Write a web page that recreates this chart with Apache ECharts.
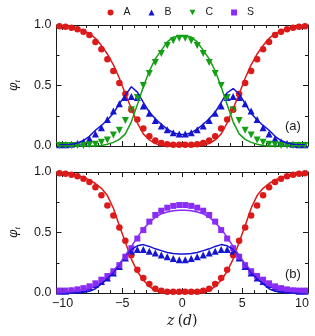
<!DOCTYPE html>
<html>
<head>
<meta charset="utf-8">
<script src="https://cdn.jsdelivr.net/npm/echarts@6/dist/echarts.min.js"></script>
<style>
html,body{margin:0;padding:0;background:#fff;}
#c{width:315px;height:336px;}
</style>
</head>
<body>
<div id="c"></div>
<script>
// positions z (in units of d)
const Z = [-10.25,-9.75,-9.25,-8.75,-8.25,-7.75,-7.25,-6.75,-6.25,-5.75,-5.25,-4.75,-4.25,-3.75,-3.25,-2.75,-2.25,-1.75,-1.25,-0.75,-0.25,
           0.25,0.75,1.25,1.75,2.25,2.75,3.25,3.75,4.25,4.75,5.25,5.75,6.25,6.75,7.25,7.75,8.25,8.75,9.25,9.75,10.25];
const xTickLabels = [-10,-5,0,5,10];
const xMinorTicks = [-10,-9,-8,-7,-6,-5,-4,-3,-2,-1,0,1,2,3,4,5,6,7,8,9,10];

// panel (a): symbols (simulation) and lines (theory)
const aA_pts = [0.99,0.985,0.978,0.964,0.945,0.917,0.86,0.80,0.716,0.62,0.52,0.43,0.30,0.22,0.144,0.08,0.045,0.025,0.015,0.01,0.01,
                0.01,0.01,0.015,0.025,0.045,0.08,0.144,0.22,0.30,0.43,0.52,0.62,0.716,0.80,0.86,0.917,0.945,0.964,0.978,0.985,0.99];
const aA_line = [0.99,0.985,0.98,0.965,0.95,0.93,0.89,0.83,0.76,0.67,0.56,0.43,0.31,0.19,0.10,0.05,0.02,0.005,0,0,0,
                 0,0,0,0.005,0.02,0.05,0.10,0.19,0.31,0.43,0.56,0.67,0.76,0.83,0.89,0.93,0.95,0.965,0.98,0.985,0.99];
const aB_pts = [0.01,0.01,0.015,0.02,0.035,0.06,0.10,0.15,0.22,0.29,0.35,0.40,0.41,0.40,0.33,0.27,0.21,0.165,0.135,0.11,0.10,
                0.10,0.11,0.135,0.165,0.21,0.27,0.33,0.40,0.41,0.40,0.35,0.29,0.22,0.15,0.10,0.06,0.035,0.02,0.015,0.01,0.01];
const aB_line = [0.01,0.01,0.015,0.025,0.045,0.08,0.13,0.17,0.215,0.27,0.35,0.42,0.49,0.445,0.36,0.28,0.225,0.18,0.14,0.11,0.095,
                 0.095,0.11,0.14,0.18,0.225,0.28,0.36,0.44,0.475,0.43,0.35,0.27,0.215,0.17,0.13,0.08,0.045,0.025,0.015,0.01,0.01];
const aC_pts = [0.005,0.005,0.005,0.005,0.005,0.01,0.015,0.03,0.05,0.09,0.13,0.21,0.30,0.40,0.50,0.60,0.69,0.765,0.83,0.87,0.89,
                0.89,0.87,0.83,0.765,0.69,0.60,0.50,0.40,0.30,0.21,0.13,0.09,0.05,0.03,0.015,0.01,0.005,0.005,0.005,0.005,0.005];
const aC_line = [0,0,0,0,0,0,0,0.005,0.015,0.03,0.055,0.10,0.20,0.34,0.49,0.62,0.72,0.79,0.86,0.90,0.908,
                 0.908,0.90,0.86,0.79,0.72,0.62,0.49,0.34,0.20,0.10,0.055,0.03,0.015,0.005,0,0,0,0,0,0,0];

// panel (b)
const bA_pts = [0.99,0.986,0.978,0.964,0.945,0.917,0.873,0.807,0.724,0.641,0.542,0.432,0.311,0.193,0.124,0.074,0.036,0.019,0.01,0.01,0.01,
                0.01,0.01,0.01,0.019,0.036,0.074,0.124,0.193,0.311,0.432,0.542,0.641,0.724,0.807,0.873,0.917,0.945,0.964,0.978,0.986,0.99];
const bA_line = [0.99,0.985,0.98,0.97,0.955,0.935,0.905,0.865,0.805,0.70,0.555,0.42,0.28,0.18,0.105,0.055,0.02,0.005,0,0,0,
                 0,0,0,0.005,0.02,0.055,0.105,0.18,0.28,0.42,0.555,0.70,0.805,0.865,0.905,0.935,0.955,0.97,0.98,0.985,0.99];
const bB_pts = [0.015,0.015,0.02,0.025,0.035,0.048,0.07,0.095,0.125,0.165,0.22,0.29,0.345,0.36,0.36,0.345,0.33,0.315,0.30,0.285,0.275,
                0.275,0.285,0.30,0.315,0.33,0.345,0.36,0.36,0.345,0.29,0.22,0.165,0.125,0.095,0.07,0.048,0.035,0.025,0.02,0.015,0.015];
const bB_line = [0,0,0,0.002,0.006,0.015,0.035,0.075,0.12,0.17,0.235,0.31,0.36,0.39,0.40,0.385,0.365,0.35,0.335,0.327,0.323,
                 0.323,0.327,0.335,0.35,0.365,0.385,0.40,0.39,0.36,0.31,0.235,0.17,0.12,0.075,0.035,0.015,0.006,0.002,0,0,0];
const bS_pts = [0.02,0.02,0.022,0.03,0.04,0.055,0.08,0.11,0.14,0.18,0.23,0.30,0.37,0.45,0.52,0.59,0.645,0.68,0.705,0.72,0.727,
                0.727,0.72,0.705,0.68,0.645,0.59,0.52,0.45,0.37,0.30,0.23,0.18,0.14,0.11,0.08,0.055,0.04,0.03,0.022,0.02,0.02];
const bS_line = [0.005,0.008,0.012,0.018,0.027,0.04,0.06,0.095,0.14,0.185,0.24,0.31,0.385,0.46,0.53,0.58,0.627,0.655,0.67,0.68,0.683,
                 0.683,0.68,0.67,0.655,0.627,0.58,0.53,0.46,0.385,0.31,0.24,0.185,0.14,0.095,0.06,0.04,0.027,0.018,0.012,0.008,0.005];

const RED = '#dc1a1a', BLUE = '#1414d2', GREEN = '#14a014', PURPLE = '#8a2cf5';
const INK = '#1a1a1a';
const SANS = '"Liberation Sans", Arial, sans-serif';
const SERIF = '"DejaVu Serif", "Liberation Serif", serif';

const pts = arr => Z.map((z, i) => [z, arr[i]]);

const chart = echarts.init(document.getElementById('c'), null, {renderer: 'canvas'});

const gridTop = 25, gridH = 121, gridTop2 = 172, gridLeft = 47, gridW = 261;

function xAxes(gridIndex, withLabels) {
  const base = {
    type: 'value', gridIndex, min: -10.5, max: 10.5,
    splitLine: {show: false},
    axisLine: {show: true, onZero: false, lineStyle: {color: INK, width: 1}},
  };
  const major = (pos, labels) => Object.assign({}, base, {
    position: pos,
    axisTick: {show: true, inside: true, length: 5, lineStyle: {color: INK}, customValues: xTickLabels},
    axisLabel: labels ? {
      show: true, customValues: xTickLabels, fontFamily: SANS, fontSize: 12.5, color: INK, margin: 4,
      formatter: v => String(v).replace('-', '\u2212')
    } : {show: false},
    name: labels ? '{i|z} {n|(}{i|d}{n|)}' : '',
    nameLocation: 'middle', nameGap: 21,
    nameTextStyle: {rich: {
      i: {fontFamily: SERIF, fontStyle: 'italic', fontSize: 14, color: INK},
      n: {fontFamily: SERIF, fontSize: 14, color: INK}
    }}
  });
  const minor = pos => Object.assign({}, base, {
    position: pos,
    axisLine: {show: false, onZero: false},
    axisTick: {show: true, inside: true, length: 3, lineStyle: {color: INK}, customValues: xMinorTicks},
    axisLabel: {show: false}
  });
  return [major('bottom', withLabels), minor('bottom'), major('top', false), minor('top')];
}

function yAxes(gridIndex) {
  const base = {
    type: 'value', gridIndex, min: 0, max: 1, interval: 0.5,
    splitLine: {show: false},
    axisLine: {show: true, onZero: false, lineStyle: {color: INK, width: 1}},
    axisTick: {show: true, inside: true, length: 5, lineStyle: {color: INK}},
    minorTick: {show: true, splitNumber: 2, length: 3, lineStyle: {color: INK}},
  };
  return [
    Object.assign({}, base, {
      position: 'left',
      axisLabel: {show: true, fontFamily: SANS, fontSize: 12.5, color: INK, margin: 5, formatter: v => v.toFixed(1)},
      name: '{p|\u03c6}{s|i}', nameLocation: 'middle', nameGap: 35,
      nameTextStyle: {rich: {
        p: {fontFamily: SERIF, fontStyle: 'italic', fontSize: 12, color: INK},
        s: {fontFamily: SERIF, fontStyle: 'italic', fontSize: 8, color: INK, verticalAlign: 'bottom', padding: [7, 0, 0, 0]}
      }}
    }),
    Object.assign({}, base, {position: 'right', axisLabel: {show: false}})
  ];
}

function scatter(name, arr, color, symbol, size, xi, yi, rot) {
  return {
    type: 'scatter', name, data: pts(arr), xAxisIndex: xi, yAxisIndex: yi,
    symbol, symbolSize: size, symbolRotate: rot || 0,
    itemStyle: {color, opacity: 1}, z: 2, silent: true
  };
}
function curve(name, arr, color, xi, yi) {
  return {
    type: 'line', name, data: pts(arr), xAxisIndex: xi, yAxisIndex: yi,
    showSymbol: false, symbol: 'none', lineStyle: {color, width: 1.5}, itemStyle: {color},
    z: 3, silent: true, animation: false
  };
}

const DOWN_TRI = 'path://M0,0L10,0L5,9Z';

chart.setOption({
  animation: false,
  backgroundColor: '#fff',
  legend: {
    data: [
      {name: 'A', icon: 'circle'},
      {name: 'B', icon: 'triangle'},
      {name: 'C', icon: DOWN_TRI},
      {name: 'S', icon: 'rect'}
    ],
    left: 107.5, top: 7, padding: 0,
    itemWidth: 6, itemHeight: 6, itemGap: 18,
    symbolRotate: 0,
    textStyle: {fontFamily: SANS, fontSize: 10.5, color: INK, padding: [0, 0, 0, 5]},
    selectedMode: false
  },
  grid: [
    {left: gridLeft, top: gridTop, width: gridW, height: gridH},
    {left: gridLeft, top: gridTop2, width: gridW, height: gridH}
  ],
  xAxis: [...xAxes(0, false), ...xAxes(1, true)],
  yAxis: [...yAxes(0), ...yAxes(1)],
  series: [
    scatter('A', aA_pts, RED, 'circle', 6.5, 0, 0),
    scatter('B', aB_pts, BLUE, 'triangle', 7, 0, 0),
    scatter('C', aC_pts, GREEN, 'triangle', 7, 0, 0, 180),
    curve('A line a', aA_line, RED, 0, 0),
    curve('B line a', aB_line, BLUE, 0, 0),
    curve('C line a', aC_line, GREEN, 0, 0),
    scatter('A', bA_pts, RED, 'circle', 6.5, 4, 2),
    scatter('B', bB_pts, BLUE, 'triangle', 7, 4, 2),
    scatter('S', bS_pts, PURPLE, 'rect', 6, 4, 2),
    curve('A line b', bA_line, RED, 4, 2),
    curve('B line b', bB_line, BLUE, 4, 2),
    curve('S line b', bS_line, PURPLE, 4, 2)
  ],
  graphic: [
    {type: 'text', left: 285, top: 120, style: {text: '(a)', fontFamily: SANS, fontSize: 13, fill: INK}},
    {type: 'text', left: 285, top: 268, style: {text: '(b)', fontFamily: SANS, fontSize: 13, fill: INK}}
  ]
});
</script>
</body>
</html>
